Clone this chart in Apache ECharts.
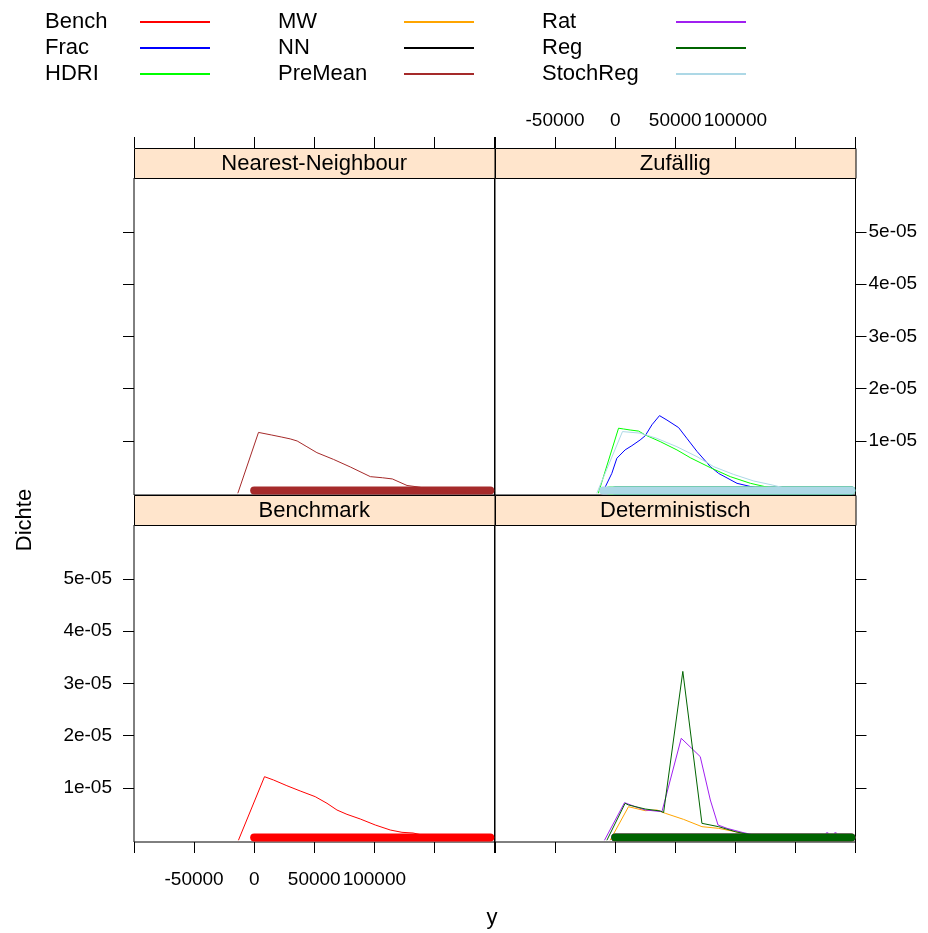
<!DOCTYPE html>
<html>
<head>
<meta charset="utf-8">
<script src="https://cdn.jsdelivr.net/npm/echarts@6/dist/echarts.min.js"></script>
<style>
  html, body { margin: 0; padding: 0; background: #fff; }
  #chart { width: 928px; height: 933px; }
</style>
</head>
<body>
<div id="chart"></div>
<script>
// panel titles (lattice strips)
const panelNames = ['Nearest-Neighbour', 'Zufällig', 'Benchmark', 'Deterministisch'];

// legend groups, column by column
const legendCol1 = ['Bench', 'Frac', 'HDRI'];
const legendCol2 = ['MW', 'NN', 'PreMean'];
const legendCol3 = ['Rat', 'Reg', 'StochReg'];

// axis ticks
const xTicks = [-100000, -50000, 0, 50000, 100000, 150000, 200000];
const xLabels = [-50000, 0, 50000, 100000];
const yTicks = [1e-5, 2e-5, 3e-5, 4e-5, 5e-5];

// density curves: [y, Dichte]
const premeanLine = [[-13600, 0], [3600, 1.164e-5], [14200, 1.116e-5], [22500, 1.077e-5], [30000, 1.04e-5],
  [35800, 1.0e-5], [43900, 0.89e-5], [52200, 0.777e-5], [66100, 0.647e-5], [80000, 0.503e-5],
  [96700, 0.318e-5], [106700, 0.297e-5], [115000, 0.274e-5], [127200, 0.149e-5], [136700, 0.12e-5],
  [155000, 0.04e-5], [180000, 0.01e-5]];
const nnLine = [];
const benchLine = [[-13100, 0], [8600, 1.216e-5], [16100, 1.153e-5], [27200, 1.044e-5], [38300, 0.943e-5],
  [50800, 0.834e-5], [60600, 0.707e-5], [68900, 0.579e-5], [77200, 0.496e-5], [88300, 0.407e-5],
  [100800, 0.292e-5], [113300, 0.196e-5], [123000, 0.152e-5], [132200, 0.139e-5], [150000, 0.05e-5],
  [175000, 0.01e-5]];
const fracLine = [[-10800, 0], [-2800, 0.38e-5], [1400, 0.67e-5], [8300, 0.83e-5], [13900, 0.91e-5],
  [20800, 1.02e-5], [25000, 1.1e-5], [30600, 1.31e-5], [36900, 1.485e-5], [43100, 1.40e-5],
  [52800, 1.256e-5], [59700, 1.05e-5], [68100, 0.80e-5], [79200, 0.51e-5], [86100, 0.38e-5],
  [101400, 0.19e-5], [112500, 0.13e-5], [130000, 0.05e-5], [150000, 0.01e-5]];
const hdriLine = [[-14000, 0], [2800, 1.244e-5], [6900, 1.23e-5], [12500, 1.21e-5], [19400, 1.19e-5],
  [25000, 1.116e-5], [37500, 0.988e-5], [51400, 0.829e-5], [62500, 0.68e-5], [79200, 0.49e-5],
  [95800, 0.318e-5], [112500, 0.191e-5], [122200, 0.14e-5], [140000, 0.05e-5]];
const stochLine = [[-15300, 0], [6100, 1.18e-5], [20800, 1.15e-5], [34700, 1.05e-5], [51400, 0.89e-5],
  [68100, 0.70e-5], [81900, 0.51e-5], [98600, 0.36e-5], [115300, 0.235e-5], [130600, 0.159e-5],
  [150000, 0.05e-5]];
const mwLine = [[-4200, 0], [11100, 0.642e-5], [25000, 0.566e-5], [34700, 0.579e-5], [41700, 0.516e-5],
  [56900, 0.40e-5], [72200, 0.26e-5], [86100, 0.228e-5], [100000, 0.164e-5], [120000, 0.05e-5]];
const ratLine = [[-8900, 0], [7800, 0.72e-5], [16700, 0.642e-5], [25000, 0.58e-5], [38900, 0.547e-5],
  [42200, 0.833e-5], [55000, 1.95e-5], [70800, 1.60e-5], [79200, 0.77e-5], [85600, 0.292e-5],
  [93100, 0.228e-5], [105600, 0.152e-5], [125000, 0.05e-5]];
const regLine = [[-6900, 0], [8300, 0.707e-5], [11100, 0.675e-5], [25000, 0.598e-5], [37500, 0.56e-5],
  [40300, 0.53e-5], [56300, 3.23e-5], [72200, 0.324e-5], [86100, 0.26e-5], [100000, 0.164e-5],
  [107000, 0.13e-5], [125000, 0.05e-5]];

// range of the observations (rug of points along the bottom)
const benchRug = [0, 196500];
const fracRug = [0, 196500];
const hdriRug = [-5000, 196500];
const stochRug = [-10000, 196500];
const premeanRug = [0, 196500];
const mwRug = [0, 196500];
const ratRug = [0, 196500];
const regRug = [0, 196500];
const rugLevel = 0.055e-5;
// a few Rat points that stick out above the Reg rug
const ratRugOutliers = [[176400, 0.13e-5], [183300, 0.13e-5]];

const colors = {
  Bench: '#FF0000', Frac: '#0000FF', HDRI: '#00FF00', MW: '#FFA500', NN: '#000000',
  PreMean: '#A52A2A', Rat: '#A020F0', Reg: '#006400', StochReg: '#ADD8E6'
};

const font = "'Liberation Sans', Arial, sans-serif";

// panel boxes: 0 top-left, 1 top-right, 2 bottom-left, 3 bottom-right
const boxes = [
  { left: 134, top: 178 }, { left: 495, top: 178 },
  { left: 134, top: 525 }, { left: 495, top: 525 }
];
const panelW = 360.5, panelH = 317, stripH = 30;

function lineSeries(name, data, p) {
  return {
    name: name, type: 'line', xAxisIndex: p, yAxisIndex: p, data: data,
    symbol: 'none', silent: true, clip: true,
    lineStyle: { width: 1, color: colors[name] },
    itemStyle: { color: colors[name] }
  };
}
function rugSeries(name, ext, p) {
  return {
    name: name, type: 'line', xAxisIndex: p, yAxisIndex: p,
    data: [[ext[0], rugLevel], [ext[1], rugLevel]],
    symbol: 'none', silent: true, clip: true,
    lineStyle: { width: 8, color: colors[name], cap: 'round' },
    itemStyle: { color: colors[name] }
  };
}

const series = [
  lineSeries('NN', nnLine, 0),
  rugSeries('PreMean', premeanRug, 0), lineSeries('PreMean', premeanLine, 0),
  rugSeries('Frac', fracRug, 1), lineSeries('Frac', fracLine, 1),
  rugSeries('HDRI', hdriRug, 1), lineSeries('HDRI', hdriLine, 1),
  rugSeries('StochReg', stochRug, 1), lineSeries('StochReg', stochLine, 1),
  rugSeries('Bench', benchRug, 2), lineSeries('Bench', benchLine, 2),
  rugSeries('MW', mwRug, 3), lineSeries('MW', mwLine, 3),
  rugSeries('Rat', ratRug, 3), lineSeries('Rat', ratLine, 3),
  rugSeries('Reg', regRug, 3), lineSeries('Reg', regLine, 3),
  {
    name: 'Rat', type: 'scatter', xAxisIndex: 3, yAxisIndex: 3, data: ratRugOutliers,
    symbolSize: 3, silent: true, itemStyle: { color: colors.Rat }
  }
];

const tickStyle = { color: '#000', width: 1 };
const labelStyle = { color: '#000', fontSize: 19, fontFamily: font };

function xAxis(p, pos, labels) {
  return {
    gridIndex: p, type: 'value', min: -100000, max: 200000, position: pos,
    offset: pos === 'top' ? stripH : 0,
    axisLine: { show: false, onZero: false }, splitLine: { show: false },
    axisTick: { show: true, length: 11, customValues: xTicks, lineStyle: tickStyle },
    axisLabel: Object.assign({
      show: labels, customValues: xLabels, margin: pos === 'top' ? 18 : 28,
      formatter: v => String(v)
    }, labelStyle)
  };
}
function yAxis(p, pos, labels) {
  return {
    gridIndex: p, type: 'value', min: -3.3e-7, max: 6.03e-5, position: pos,
    axisLine: { show: false, onZero: false }, splitLine: { show: false },
    axisTick: { show: true, length: 11, customValues: yTicks, lineStyle: tickStyle },
    axisLabel: Object.assign({
      show: labels, customValues: yTicks, margin: pos === 'right' ? 13 : 22,
      formatter: v => Math.round(v * 1e5) + 'e-05'
    }, labelStyle)
  };
}

function legend(names, left, textW) {
  return {
    data: names, orient: 'vertical', left: left, top: 9, padding: 0,
    align: 'right', icon: 'rect', itemWidth: 70, itemHeight: 2, itemGap: 0,
    selectedMode: false,
    formatter: '{t|{name}}',
    textStyle: {
      color: '#000', fontSize: 22, fontFamily: font, lineHeight: 26,
      rich: { t: { width: textW, align: 'left', fontSize: 22, fontFamily: font, color: '#000', lineHeight: 26 } }
    }
  };
}

const graphics = [];
boxes.forEach((b, i) => {
  graphics.push({
    type: 'rect', left: b.left, top: b.top - stripH, silent: true, z: 10,
    shape: { width: panelW, height: stripH },
    style: { fill: '#FFE5CC', stroke: '#000', lineWidth: 1 }
  });
  graphics.push({
    type: 'text', x: b.left + panelW / 2, y: b.top - stripH / 2 + 1, silent: true, z: 11,
    style: { text: panelNames[i], fill: '#000', font: '22px ' + font, textAlign: 'center', textVerticalAlign: 'middle' }
  });
});
graphics.push({
  type: 'text', x: 492, y: 918, silent: true,
  style: { text: 'y', fill: '#000', font: '22px ' + font, textAlign: 'center', textVerticalAlign: 'middle' }
});
graphics.push({
  type: 'text', x: 25, y: 520, rotation: Math.PI / 2, silent: true,
  style: { text: 'Dichte', fill: '#000', font: '22px ' + font, textAlign: 'center', textVerticalAlign: 'middle' }
});

const chart = echarts.init(document.getElementById('chart'), null, { renderer: 'canvas' });
chart.setOption({
  backgroundColor: '#fff',
  animation: false,
  legend: [legend(legendCol1, 45, 90), legend(legendCol2, 278, 121), legend(legendCol3, 542, 129)],
  grid: boxes.map(b => ({
    left: b.left, top: b.top, width: panelW, height: panelH,
    show: true, borderColor: '#000', borderWidth: 1, backgroundColor: 'transparent',
    containLabel: false, outerBoundsMode: 'none'
  })),
  xAxis: [xAxis(0, 'top', false), xAxis(1, 'top', true), xAxis(2, 'bottom', true), xAxis(3, 'bottom', false)],
  yAxis: [yAxis(0, 'left', false), yAxis(1, 'right', true), yAxis(2, 'left', true), yAxis(3, 'right', false)],
  graphic: graphics,
  series: series
});
window.addEventListener('resize', function () { chart.resize(); });
</script>
</body>
</html>
